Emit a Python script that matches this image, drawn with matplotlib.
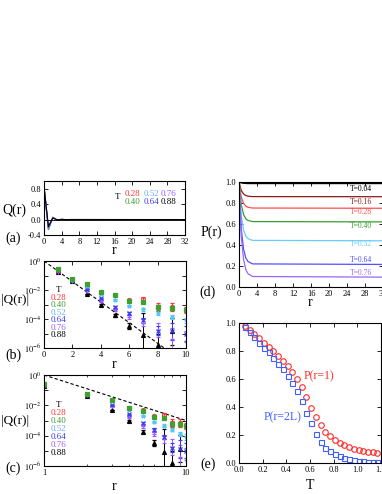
import numpy as np
import matplotlib
matplotlib.use("Agg")
import matplotlib.pyplot as plt
from matplotlib.ticker import FixedLocator, FuncFormatter, NullFormatter

plt.rcParams['font.family'] = 'serif'
plt.rcParams['font.serif'] = ['Liberation Serif', 'DejaVu Serif']
plt.rcParams['mathtext.fontset'] = 'stix'

# temperatures and colours
temps = ["0.28", "0.40", "0.52", "0.64", "0.76", "0.88"]
colors = ['#ff3333', '#3f9f2f', '#55c8f5', '#3c3cf0', '#9a5cff', '#000000']
text_colors = ['#ff3333', '#3f9f2f', '#6aaaff', '#3c3cf0', '#9a5cff', '#000000']
markers = ['o', 's', '*', 'x', '+', '^']

# panel (a): Q(r)
qa_r = [0, 1, 2, 3, 4, 5, 6, 32]
qa_vals = [
    [0.85, -0.26, 0.06, -0.024, 0.010, -0.005, 0.002, 0.0],
    [0.85, -0.26, 0.06, -0.024, 0.008, -0.004, 0.002, 0.0],
    [0.85, -0.23, 0.05, -0.018, 0.006, -0.002, 0.001, 0.0],
    [0.85, -0.21, 0.05, -0.011, 0.003, -0.001, 0.000, 0.0],
    [0.85, -0.19, 0.04, -0.009, 0.002, -0.000, 0.000, 0.0],
    [0.85, -0.18, 0.04, -0.005, 0.001, -0.000, 0.000, 0.0],
]

# panels (b),(c): |Q(r)|, log10 values and error half-widths in decades
qb_r = [1, 2, 3, 4, 5, 6, 7, 8, 9, 10]
qb_log = [
    [-0.59, -1.23, -1.62, -2.15, -2.33, -2.72, -2.65, -3.18, -3.18, -3.38],
    [-0.58, -1.22, -1.62, -2.15, -2.37, -2.78, -2.83, -3.20, -3.22, -3.36],
    [-0.64, -1.28, -1.74, -2.30, -2.69, -3.10, -3.33, -3.60, -3.88, -4.10],
    [-0.68, -1.32, -1.96, -2.58, -3.15, -3.60, -4.10, -4.80, -4.86, -5.00],
    [-0.73, -1.35, -2.05, -2.76, -3.38, -3.88, -4.25, -4.75, -5.40, -5.60],
    [-0.75, -1.37, -2.28, -3.04, -3.74, -4.47, -5.09, -5.80, -4.86, np.nan],
]
qb_err = [
    [0, 0, 0, 0.05, 0.08, 0.10, 0.15, 0.25, 0.25, 0.20],
    [0, 0, 0, 0.03, 0.05, 0.07, 0.10, 0.15, 0.15, 0.12],
    [0, 0, 0, 0.03, 0.05, 0.08, 0.10, 0.12, 0.15, 0.20],
    [0, 0, 0, 0.03, 0.06, 0.10, 0.15, 0.30, 0.60, 0.50],
    [0, 0, 0, 0.05, 0.10, 0.15, 0.25, 0.50, 0.80, 0.80],
    [0, 0, 0, 0.05, 0.10, 0.20, 1.50, 0.80, 0.90, 0.00],
]
fit_b_r = [0, 10]
fit_b_y = [1.0, 10 ** -7.09]
fit_c_r = [1, 10]
fit_c_y = [1.0, 1e-3]

# panel (d): P(r)
pd_temps = ["0.04", "0.16", "0.28", "0.40", "0.52", "0.64", "0.76"]
pd_colors = ['#000000', '#8b1a1a', '#ff4d4d', '#33a02c', '#66ccff', '#5050ff', '#9966ff']
pd_r = [0, 0.5, 1, 1.5, 2, 3, 32]
pd_vals = [
    [1.0, 0.991, 0.988, 0.986, 0.985, 0.985, 0.985],
    [1.0, 0.920, 0.887, 0.871, 0.865, 0.861, 0.860],
    [1.0, 0.858, 0.798, 0.770, 0.759, 0.752, 0.750],
    [1.0, 0.783, 0.692, 0.650, 0.634, 0.623, 0.620],
    [1.0, 0.680, 0.546, 0.485, 0.460, 0.444, 0.440],
    [1.0, 0.553, 0.364, 0.278, 0.243, 0.220, 0.215],
    [1.0, 0.484, 0.266, 0.166, 0.127, 0.100, 0.094],
]
pd_label_y = [0.935, 0.81, 0.71, 0.58, 0.41, 0.26, 0.13]

# panel (e): P(r=1) and P(r=2L) vs T
pe_T = [0.05, 0.09, 0.13, 0.17, 0.21, 0.25, 0.29, 0.33, 0.37, 0.41, 0.45, 0.49,
        0.53, 0.57, 0.61, 0.65, 0.69, 0.73, 0.77, 0.81, 0.85, 0.89, 0.93, 0.97,
        1.01, 1.05, 1.09, 1.13, 1.17]
p_r1 = [0.98, 0.952, 0.923, 0.89, 0.86, 0.83, 0.80, 0.766, 0.73, 0.69, 0.653, 0.60,
        0.54, 0.474, 0.395, 0.33, 0.27, 0.222, 0.194, 0.167, 0.146, 0.127, 0.115, 0.103,
        0.096, 0.089, 0.081, 0.077, 0.072]
p_r2L = [0.975, 0.933, 0.90, 0.86, 0.825, 0.79, 0.75, 0.71, 0.67, 0.622, 0.57, 0.515,
         0.443, 0.36, 0.287, 0.21, 0.15, 0.11, 0.086, 0.067, 0.05, 0.038, 0.029, 0.022,
         0.017, 0.012, 0.010, 0.007, 0.007]

W, H = 382, 494
fig = plt.figure(figsize=(W / 100, H / 100), dpi=100)


def rect(l, t, r, b):
    return [l / W, 1 - b / H, (r - l) / W, (b - t) / H]


def style(ax):
    ax.tick_params(which='both', direction='in', top=True, right=True,
                   labelsize=6, pad=2)
    ax.tick_params(which='major', length=3, width=0.6)
    ax.tick_params(which='minor', length=1.5, width=0.5)
    for s in ax.spines.values():
        s.set_linewidth(0.8)


ax_a = fig.add_axes(rect(44, 181, 185, 235))
ax_b = fig.add_axes(rect(44, 261, 186, 348))
ax_c = fig.add_axes(rect(44, 375, 186, 466))
ax_d = fig.add_axes(rect(239, 182, 383, 287))
ax_e = fig.add_axes(rect(239, 323, 381, 463))

# (a)
for vals, col in zip(qa_vals, colors):
    ax_a.plot(qa_r, vals, color=col, lw=0.8)
ax_a.axhline(0, color='k', lw=0.6)
ax_a.set_xlim(0, 32)
ax_a.set_ylim(-0.4, 1.0)
ax_a.set_xticks(range(0, 33, 4))
ax_a.set_yticks([-0.4, 0.0, 0.4, 0.8])
ax_a.yaxis.set_major_formatter(FuncFormatter(lambda v, p: f"{v:.1f}"))
style(ax_a)
ax_a.text(0.52, 0.71, "T", transform=ax_a.transAxes, fontsize=6.5, ha='center', va='center')
for i, (t, col) in enumerate(zip(temps, text_colors)):
    x = [0.63, 0.76, 0.88][i // 2]
    y = [0.76, 0.62][i % 2]
    ax_a.text(x, y, t, color=col, transform=ax_a.transAxes, fontsize=6.5,
              ha='center', va='center')

# (b) and (c)
order = [5, 4, 3, 2, 0, 1]
for ax in (ax_b, ax_c):
    for i in order:
        lg = np.array(qb_log[i])
        e = np.array(qb_err[i])
        v = 10 ** lg
        yerr = [v - 10 ** (lg - e), 10 ** (lg + e) - v]
        mfc = 'none' if markers[i] == 'o' else colors[i]
        ax.errorbar(qb_r, v, yerr=yerr, fmt=markers[i], color=colors[i], ms=2.8,
                    mfc=mfc, mew=0.9, elinewidth=0.7, capsize=1.5, capthick=0.6)
    ax.set_yscale('log')
    ax.set_ylim(1e-6, 1e0)
    ax.yaxis.set_major_locator(FixedLocator([10.0 ** k for k in range(-6, 1)]))
    ax.yaxis.set_major_formatter(FuncFormatter(
        lambda v, p: f"$10^{{{int(round(np.log10(v)))}}}$" if int(round(np.log10(v))) % 2 == 0 else ""))
    ax.yaxis.set_minor_formatter(NullFormatter())
    ax.yaxis.set_minor_locator(FixedLocator([]))
    style(ax)
    ax.text(0.1, 0.67, "T", transform=ax.transAxes, fontsize=6.5, ha='center', va='center')
    for k, (t, col) in enumerate(zip(temps, text_colors)):
        ax.text(0.1, 0.58 - 0.087 * k, t, color=col, transform=ax.transAxes,
                fontsize=6.5, ha='center', va='center')

ax_b.plot(fit_b_r, fit_b_y, 'k--', lw=0.8, dashes=(3, 2))
ax_b.set_xlim(0, 10)
ax_b.set_xticks(range(0, 11, 2))

ax_c.plot(fit_c_r, fit_c_y, 'k--', lw=0.8, dashes=(3, 2))
ax_c.set_xscale('log')
ax_c.set_xlim(1, 10)
ax_c.xaxis.set_major_locator(FixedLocator([1, 10]))
ax_c.xaxis.set_major_formatter(FuncFormatter(lambda v, p: f"{int(v)}"))
ax_c.xaxis.set_minor_locator(FixedLocator(list(range(2, 10))))
ax_c.xaxis.set_minor_formatter(NullFormatter())

# (d)
for vals, col, t, ly in zip(pd_vals, pd_colors, pd_temps, pd_label_y):
    ax_d.plot(pd_r, vals, color=col, lw=0.9)
    ax_d.text(27, ly, f"T={t}", color=col, fontsize=5.5, ha='center', va='center')
ax_d.set_xlim(0, 32)
ax_d.set_ylim(0, 1.0)
ax_d.set_xticks(range(0, 33, 4))
ax_d.set_yticks(np.arange(0, 1.01, 0.2))
ax_d.yaxis.set_major_formatter(FuncFormatter(lambda v, p: f"{v:.1f}"))
style(ax_d)

# (e)
ax_e.plot(pe_T, p_r1, 'o', ms=4, mfc='none', mec='#ff2a2a', mew=0.8)
ax_e.plot(pe_T, p_r2L, 's', ms=3.6, mfc='none', mec='#3f5fff', mew=0.8)
ax_e.text(0.55, 0.617, "P(r=1)", color='#ff2a2a', fontsize=8.5, va='center')
ax_e.text(0.206, 0.33, "P(r=2L)", color='#3f5fff', fontsize=8.5, va='center')
ax_e.set_xlim(0, 1.2)
ax_e.set_ylim(0, 1.0)
ax_e.set_xticks(np.arange(0, 1.21, 0.2))
ax_e.set_yticks(np.arange(0, 1.01, 0.2))
ax_e.xaxis.set_major_formatter(FuncFormatter(lambda v, p: f"{v:.1f}"))
ax_e.yaxis.set_major_formatter(FuncFormatter(lambda v, p: f"{v:.1f}"))
style(ax_e)

# axis labels and panel tags (figure pixel coords)
def ftext(x, y, s, size=10, **kw):
    fig.text(x / W, 1 - y / H, s, fontsize=size, ha='center', va='center', **kw)

ftext(14, 210, "Q(r)")
ftext(15, 300, "|Q(r)|", size=9.5)
ftext(15, 421, "|Q(r)|", size=9.5)
ftext(211, 232, "P(r)")
ftext(114, 251, "r")
ftext(114, 364, "r")
ftext(114, 486, "r")
ftext(310, 303, "r")
ftext(310, 485, "T")
ftext(13, 238, "(a)")
ftext(13, 355, "(b)")
ftext(13, 468, "(c)")
ftext(208, 292, "(d)")
ftext(208, 464, "(e)")

fig.savefig("out.png", dpi=100)
